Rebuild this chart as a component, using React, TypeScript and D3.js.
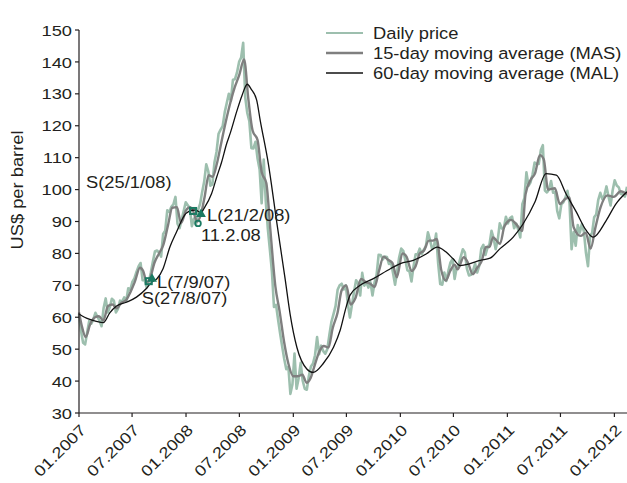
import React from 'react';
import * as d3 from 'd3';

const W = 627;
const H = 483;
const FONT = '"Liberation Sans", Arial, Helvetica, sans-serif';
const SX_TICK = 1.18; // horizontal glyph stretch of the original typeface (ticks)
const SX_TEXT = 1.11; // legend / annotations

// ---------- data ----------
const dailyStart = '2007-01-01'; // weekly readings of the daily price band
const dailyPrice = [
  // 2007
  61.0, 55.6, 52.0, 51.5, 55.4, 58.9, 58.0, 59.4, 61.4, 60.1, 58.9, 57.2, 62.9,
  65.9, 61.5, 63.1, 65.8, 65.2, 61.5, 62.6, 65.2, 64.9, 66.2, 65.0, 69.1, 68.5,
  71.1, 72.2, 74.2, 75.9, 77.0, 71.6, 71.6, 69.3, 71.1, 74.0, 77.5, 80.6, 80.9,
  80.3, 79.0, 86.1, 87.1, 93.5, 93.0, 94.6, 95.4, 97.7, 89.3, 87.9, 90.6, 93.3, 96.0,
  // 2008
  95.1, 94.2, 88.5, 90.9, 89.0, 93.6, 95.5, 99.2, 102.5, 107.9, 105.7, 101.2, 101.6,
  108.5, 111.8, 117.5, 118.8, 119.9, 124.2, 127.1, 130.0, 127.8, 134.4, 134.6, 136.7, 140.0,
  141.4, 146.0, 128.9, 124.0, 121.4, 113.0, 112.9, 115.0, 109.7, 106.3, 95.7, 109.4, 96.4,
  87.8, 81.2, 74.3, 63.2, 63.9, 59.3, 54.9, 50.8, 46.9, 43.7, 44.5, 36.0, 39.0,
  // 2009
  48.6, 37.6, 40.8, 45.7, 40.1, 37.6, 37.3, 41.6, 44.6, 45.5, 48.1, 53.8, 48.4,
  51.1, 49.4, 48.6, 50.0, 54.5, 58.6, 61.0, 63.5, 68.6, 70.0, 70.5, 68.7, 70.0,
  64.1, 59.9, 63.9, 67.9, 71.6, 70.6, 66.8, 73.9, 69.9, 71.1, 69.3, 71.0, 66.8,
  70.9, 73.3, 79.6, 79.5, 78.1, 79.0, 78.9, 76.7, 77.3, 73.9, 70.2, 74.4, 78.8,
  // 2010
  81.5, 80.8, 77.9, 74.7, 74.4, 71.2, 76.0, 79.7, 79.7, 81.5, 79.8, 81.2, 82.2,
  86.6, 84.3, 81.5, 82.4, 86.2, 76.8, 70.4, 70.2, 74.0, 71.4, 74.6, 77.2, 78.2,
  72.0, 75.5, 76.5, 79.0, 81.3, 80.3, 75.2, 73.1, 73.3, 74.6, 76.8, 74.0, 76.1,
  81.5, 82.7, 79.5, 81.7, 82.9, 87.1, 84.8, 81.3, 84.1, 89.4, 87.8, 88.0, 91.5,
  // 2011
  89.4, 91.1, 91.5, 87.9, 89.3, 87.5, 85.0, 95.4, 97.3, 105.4, 101.2, 102.3, 104.8,
  108.5, 108.0, 108.0, 112.3, 113.9, 99.7, 99.1, 100.1, 102.7, 99.0, 99.3, 93.3, 91.0,
  95.4, 96.0, 97.5, 99.6, 95.7, 81.3, 86.7, 82.4, 88.9, 86.5, 89.2, 86.9, 80.2,
  76.0, 85.5, 86.4, 91.3, 92.2, 96.8, 99.0, 97.0, 98.2, 101.0, 97.8, 95.0, 99.7,
  // 2012
  102.9, 101.3, 100.7, 98.6, 98.5, 97.8, 100.9,
];

const masDates = [
  '2007-01-01', '2007-01-10', '2007-01-24', '2007-02-08', '2007-02-25', '2007-03-10', '2007-03-25',
  '2007-04-10', '2007-04-25', '2007-05-10', '2007-05-25', '2007-06-10', '2007-06-25', '2007-07-10',
  '2007-07-28', '2007-08-08', '2007-08-20', '2007-09-01', '2007-09-15', '2007-10-01', '2007-10-15',
  '2007-11-01', '2007-11-15', '2007-12-01', '2007-12-15', '2008-01-01', '2008-01-15', '2008-01-25',
  '2008-02-08', '2008-02-21', '2008-03-05', '2008-03-18', '2008-04-01', '2008-04-15', '2008-05-01',
  '2008-05-15', '2008-06-01', '2008-06-15', '2008-07-01', '2008-07-17', '2008-08-01', '2008-08-15',
  '2008-09-01', '2008-09-15', '2008-10-01', '2008-10-15', '2008-11-01', '2008-11-15', '2008-12-01',
  '2008-12-15', '2009-01-01', '2009-01-15', '2009-02-01', '2009-02-15', '2009-03-01', '2009-03-15',
  '2009-04-01', '2009-04-15', '2009-05-01', '2009-05-15', '2009-06-01', '2009-06-15', '2009-07-01',
  '2009-07-15', '2009-08-01', '2009-08-20', '2009-09-05', '2009-09-20', '2009-10-05', '2009-10-20',
  '2009-11-05', '2009-11-20', '2009-12-05', '2009-12-20', '2010-01-08', '2010-01-22', '2010-02-08',
  '2010-02-22', '2010-03-08', '2010-03-22', '2010-04-08', '2010-04-22', '2010-05-05', '2010-05-20',
  '2010-06-05', '2010-06-20', '2010-07-05', '2010-07-15', '2010-08-05', '2010-08-20', '2010-09-05',
  '2010-09-20', '2010-10-05', '2010-10-20', '2010-11-01', '2010-11-13', '2010-12-07', '2010-12-22',
  '2011-01-14', '2011-01-28', '2011-02-10', '2011-02-20', '2011-03-04', '2011-03-21', '2011-04-05',
  '2011-04-22', '2011-05-05', '2011-05-20', '2011-06-12', '2011-06-29', '2011-07-16', '2011-08-01',
  '2011-08-15', '2011-09-08', '2011-09-25', '2011-10-12', '2011-10-28', '2011-11-15', '2011-12-08',
  '2011-12-30', '2012-01-23', '2012-02-13',
];
const masValues = [
  61.5, 57.5, 53.8, 57.8, 60.0, 60.3, 59.0,
  63.5, 64.0, 62.8, 64.5, 65.3, 67.8, 71.0,
  75.5, 74.5, 71.0, 72.3, 77.0, 80.0, 82.5,
  89.0, 94.3, 94.5, 89.5, 93.5, 94.5, 93.3,
  90.0, 92.3, 98.0, 104.5, 104.0, 108.0, 115.0,
  121.0, 127.5, 132.0, 136.0, 140.8, 128.0, 118.5,
  115.5, 105.5, 102.0, 87.0, 69.5, 62.0, 52.0,
  45.5, 41.5, 41.5, 42.0, 39.5, 41.0, 45.0,
  49.5, 51.0, 50.5, 56.5, 61.5, 68.5, 70.0,
  64.0, 66.0, 72.0, 71.0, 70.5, 69.5, 74.5,
  79.0, 78.0, 77.0, 72.5, 80.0, 79.0, 74.5,
  76.0, 80.0, 80.8, 84.0, 84.0, 84.5, 75.0,
  71.5, 74.5, 76.5, 75.0, 78.8, 77.0, 73.5,
  75.5, 77.5, 82.0, 82.0, 85.0, 83.0, 88.5,
  90.5, 89.5, 88.0, 87.0, 98.5, 103.0, 105.0,
  110.8, 109.5, 100.0, 100.4, 95.5, 97.0, 97.5,
  88.2, 85.5, 86.5, 81.5, 88.0, 94.5, 98.2,
  97.7, 99.5, 98.5,
];

const malDates = [
  '2007-01-01', '2007-01-20', '2007-02-07', '2007-03-01', '2007-03-25', '2007-04-16', '2007-05-09',
  '2007-06-12', '2007-07-16', '2007-08-19', '2007-09-06', '2007-09-23', '2007-10-15', '2007-11-07',
  '2007-12-01', '2007-12-23', '2008-01-14', '2008-02-01', '2008-02-21', '2008-03-05', '2008-03-28',
  '2008-04-15', '2008-05-01', '2008-05-19', '2008-06-01', '2008-06-22', '2008-07-10', '2008-07-28',
  '2008-08-10', '2008-08-29', '2008-09-10', '2008-10-08', '2008-11-06', '2008-12-04', '2008-12-21',
  '2009-01-13', '2009-02-16', '2009-03-10', '2009-04-13', '2009-05-18', '2009-06-10', '2009-07-01',
  '2009-07-14', '2009-08-17', '2009-10-01', '2009-11-28', '2010-01-01', '2010-02-14', '2010-03-30',
  '2010-05-07', '2010-06-05', '2010-06-30', '2010-07-24', '2010-08-27', '2010-09-30', '2010-11-03',
  '2010-12-07', '2011-01-21', '2011-02-24', '2011-04-05', '2011-05-13', '2011-06-17', '2011-07-20',
  '2011-08-24', '2011-09-27', '2011-10-21', '2011-12-04', '2012-01-07', '2012-02-13',
];
const malValues = [
  61.0, 60.0, 59.3, 58.7, 58.3, 61.4, 63.5,
  64.7, 66.3, 69.0, 71.0, 72.0, 75.3, 82.0,
  87.0, 91.4, 93.3, 93.6, 92.8, 94.5, 98.7,
  104.0, 108.5, 114.5, 118.0, 124.5, 129.5, 133.0,
  131.5, 128.0, 121.7, 108.0, 89.4, 72.0, 61.0,
  50.6, 43.8, 42.7, 45.5, 50.6, 56.0, 63.5,
  67.0, 70.0, 72.1, 75.2, 76.8, 77.8, 79.8,
  82.0, 80.5, 78.3, 76.2, 76.8, 77.8, 78.5,
  81.5, 85.1, 89.3, 96.1, 105.0, 104.5, 98.7,
  93.0, 87.2, 85.1, 90.3, 95.6, 99.3,
];

const xTickDates = [
  '2007-01-01', '2007-07-01', '2008-01-01', '2008-07-01', '2009-01-01', '2009-07-01',
  '2010-01-01', '2010-07-01', '2011-01-01', '2011-07-01', '2012-01-01',
];
const xTickLabels = [
  '01.2007', '07.2007', '01.2008', '07.2008', '01.2009', '07.2009',
  '01.2010', '07.2010', '01.2011', '07.2011', '01.2012',
];
const yTicks = [30, 40, 50, 60, 70, 80, 90, 100, 110, 120, 130, 140, 150];
const yTitle = 'US$ per barrel';
const legendLabels = ['Daily price', '15-day moving average (MAS)', '60-day moving average (MAL)'];

const signalDates = ['2007-08-27', '2007-09-07', '2008-01-25', '2008-02-21', '2008-02-11'];
const signalValues = [71.3, 72.0, 93.3, 92.3, 89.4];
const signalShapes = ['square', 'triangle', 'square', 'triangle', 'circle'];
const signalLabels = ['S(27/8/07)', 'L(7/9/07)', 'S(25/1/08)', 'L(21/2/08)', '11.2.08'];
// label offsets (layout only) relative to each marker
const signalLabelOffsets: [number, number][] = [
  [-7, 23], [5, 9], [-107, -23], [6, 7], [3, 18],
];

// ---------- styles ----------
const C_DAILY = '#9dbfae';
const C_MAS = '#7f7f7f';
const C_MAL = '#111111';
const C_SIGNAL = '#1b7a62';
const C_TEXT = '#231f20';

const parse = d3.timeParse('%Y-%m-%d');

function Txt(props: {
  x: number; y: number; size: number; sx: number; anchor?: string; rotate?: number; dy?: string; children: any;
}) {
  const { x, y, size, sx, anchor = 'start', rotate = 0, dy, children } = props;
  return (
    <text
      transform={`translate(${x},${y}) rotate(${rotate}) scale(${sx},1)`}
      textAnchor={anchor}
      dy={dy}
      fontSize={size}
      fontFamily={FONT}
      fill={C_TEXT}
    >
      {children}
    </text>
  );
}

export default function App() {
  const start = parse(dailyStart)!;
  const x = d3
    .scaleTime()
    .domain([start, parse('2012-02-13')!])
    .range([79, 627]);
  const y = d3.scaleLinear().domain([30, 150]).range([413, 30]);

  const daily = dailyPrice.map((v, i) => ({ d: d3.timeDay.offset(start, 7 * i), v }));
  const mas = masDates.map((s, i) => ({ d: parse(s)!, v: masValues[i] }));
  const mal = malDates.map((s, i) => ({ d: parse(s)!, v: malValues[i] }));

  const lineLin = d3
    .line<{ d: Date; v: number }>()
    .x((p) => x(p.d))
    .y((p) => y(p.v));
  const lineSmooth = d3
    .line<{ d: Date; v: number }>()
    .x((p) => x(p.d))
    .y((p) => y(p.v))
    .curve(d3.curveMonotoneX);

  const triangle = d3.symbol().type(d3.symbolTriangle).size(42)()!;

  const [x0, x1] = x.range();
  const [yb, yt] = y.range();

  const legendColors = [C_DAILY, C_MAS, C_MAL];
  const legendWidths = [2.2, 2.4, 1.4];

  return (
    <svg
      width={W}
      height={H}
      viewBox={`0 0 ${W} ${H}`}
      style={{ position: 'absolute', left: 0, top: 0, background: '#fff' }}
    >
      <rect x={0} y={0} width={W} height={H} fill="#fff" />

      {/* series */}
      <path d={lineLin(daily)!} fill="none" stroke={C_DAILY} strokeWidth={2.6} strokeLinejoin="round" />
      <path d={lineSmooth(mas)!} fill="none" stroke={C_MAS} strokeWidth={2.4} strokeLinejoin="round" />
      <path d={lineSmooth(mal)!} fill="none" stroke={C_MAL} strokeWidth={1.3} strokeLinejoin="round" />

      {/* axes */}
      <line x1={x0} x2={x0} y1={yt} y2={yb} stroke={C_TEXT} strokeWidth={1.2} />
      <line x1={x0} x2={x1} y1={yb} y2={yb} stroke={C_TEXT} strokeWidth={1.2} />
      {yTicks.map((t) => (
        <g key={`y${t}`}>
          <line x1={x0 - 4} x2={x0} y1={y(t)} y2={y(t)} stroke={C_TEXT} strokeWidth={1.2} />
          <Txt x={72} y={y(t)} size={15.5} sx={SX_TICK} anchor="end" dy="0.36em">
            {t}
          </Txt>
        </g>
      ))}
      {xTickDates.map((s, i) => {
        const px = x(parse(s)!);
        return (
          <g key={`x${s}`}>
            <line x1={px} x2={px} y1={yb} y2={yb + 4} stroke={C_TEXT} strokeWidth={1.2} />
            <Txt x={px + 8} y={yb + 18} size={15.5} sx={SX_TICK} anchor="end" rotate={-45}>
              {xTickLabels[i]}
            </Txt>
          </g>
        );
      })}
      <Txt x={22.5} y={190} size={16.5} sx={SX_TEXT} anchor="middle" rotate={-90}>
        {yTitle}
      </Txt>

      {/* legend */}
      {legendLabels.map((lab, i) => (
        <g key={lab}>
          <line
            x1={326}
            x2={363}
            y1={33 + i * 20}
            y2={33 + i * 20}
            stroke={legendColors[i]}
            strokeWidth={legendWidths[i]}
          />
          <Txt x={373} y={33 + i * 20} size={16.5} sx={SX_TEXT} dy="0.36em">
            {lab}
          </Txt>
        </g>
      ))}

      {/* signals */}
      {signalDates.map((s, i) => {
        const px = x(parse(s)!);
        const py = y(signalValues[i]);
        const shape = signalShapes[i];
        const [ox, oy] = signalLabelOffsets[i];
        return (
          <g key={`sig${i}`}>
            {shape === 'square' && (
              <rect x={px - 3} y={py - 3} width={6} height={6} fill="none" stroke={C_SIGNAL} strokeWidth={2} />
            )}
            {shape === 'triangle' && (
              <path d={triangle} transform={`translate(${px},${py})`} fill={C_SIGNAL} />
            )}
            {shape === 'circle' && (
              <circle cx={px} cy={py} r={2.8} fill="none" stroke={C_SIGNAL} strokeWidth={1.8} />
            )}
            <Txt x={px + ox} y={py + oy} size={16.5} sx={SX_TEXT}>
              {signalLabels[i]}
            </Txt>
          </g>
        );
      })}
    </svg>
  );
}
